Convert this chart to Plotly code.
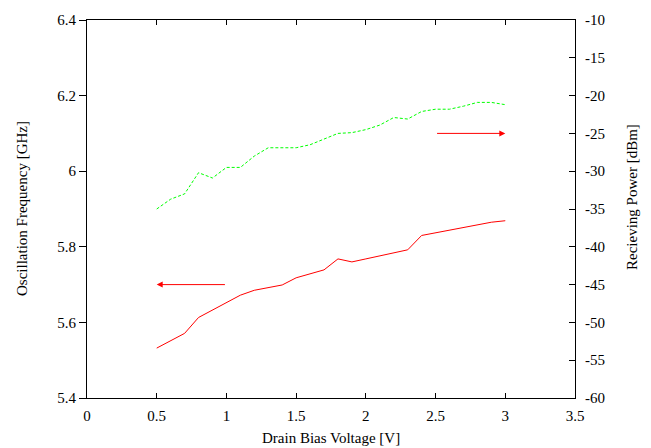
import plotly.graph_objects as go

# Drain bias voltage sweep [V]
voltage = [0.5, 0.6, 0.7, 0.8, 0.9, 1.0, 1.1, 1.2, 1.3, 1.4, 1.5, 1.6, 1.7,
           1.8, 1.9, 2.0, 2.1, 2.2, 2.3, 2.4, 2.5, 2.6, 2.7, 2.8, 2.9, 3.0]

# Oscillation frequency [GHz] (left axis)
frequency = [5.532, 5.551, 5.571, 5.613, 5.633, 5.653, 5.672, 5.685, 5.692,
             5.699, 5.718, 5.729, 5.739, 5.768, 5.760, 5.768, 5.776, 5.784,
             5.792, 5.830, 5.837, 5.844, 5.850, 5.857, 5.865, 5.869]

# Receiving power [dBm] (right axis)
power = [-35.0, -33.7, -33.0, -30.2, -30.9, -29.5, -29.5, -28.0, -26.9,
         -26.9, -26.9, -26.5, -25.7, -25.0, -24.9, -24.5, -23.9, -22.9,
         -23.1, -22.1, -21.8, -21.8, -21.4, -20.9, -20.9, -21.2]

x_ticks = [0, 0.5, 1, 1.5, 2, 2.5, 3, 3.5]
x_tick_text = ["0", "0.5", "1", "1.5", "2", "2.5", "3", "3.5"]
y_ticks = [5.4, 5.6, 5.8, 6.0, 6.2, 6.4]
y_tick_text = ["5.4", "5.6", "5.8", "6", "6.2", "6.4"]
y2_ticks = [-60, -55, -50, -45, -40, -35, -30, -25, -20, -15, -10]
y2_tick_text = ["-60", "-55", "-50", "-45", "-40", "-35", "-30", "-25",
                "-20", "-15", "-10"]

FONT = "Liberation Serif"
FSIZE = 15
RED = "#ff0000"
GREEN = "#00ff00"

fig = go.Figure()
fig.add_trace(go.Scatter(x=voltage, y=frequency, mode="lines",
                         line=dict(color=RED, width=1), yaxis="y",
                         showlegend=False))
fig.add_trace(go.Scatter(x=voltage, y=power, mode="lines",
                         line=dict(color=GREEN, width=1, dash="3px,2px"),
                         yaxis="y2", showlegend=False))

# Arrows pointing each curve to its axis
arrows = [
    dict(x=0.5, y=5.7, ax=1.0, ay=5.7, xref="x", yref="y", axref="x", ayref="y"),
    dict(x=3.0, y=-25, ax=2.5, ay=-25, xref="x", yref="y2", axref="x", ayref="y2"),
]
annotations = []
for a in arrows:
    annotations.append(dict(text="", showarrow=True, arrowhead=2, arrowsize=1.2,
                            arrowwidth=1, arrowcolor=RED, **a))

title_font = dict(family=FONT, size=FSIZE, color="black")
# Axis titles
annotations += [
    dict(text="Drain Bias Voltage [V]", xref="paper", yref="paper", x=0.5, y=0,
         yshift=-50, showarrow=False, xanchor="center", yanchor="bottom",
         font=title_font),
    dict(text="Oscillation Frequency [GHz]", xref="paper", yref="paper", x=0,
         y=0.5, xshift=-65, showarrow=False, textangle=-90,
         xanchor="center", yanchor="middle", font=title_font),
    dict(text="Recieving Power [dBm]", xref="paper", yref="paper", x=1,
         y=0.5, xshift=57, yshift=12, showarrow=False, textangle=-90,
         xanchor="center", yanchor="middle", font=title_font),
]

axis_common = dict(showgrid=False, zeroline=False, showline=True,
                   linecolor="black", linewidth=1, tickcolor="black",
                   tickwidth=1,
                   tickfont=dict(family=FONT, size=FSIZE, color="black"))

fig.update_layout(
    width=651, height=448,
    margin=dict(l=87, r=76, t=16, b=50),
    paper_bgcolor="white", plot_bgcolor="white",
    xaxis=dict(range=[0, 3.5], tickvals=x_ticks, ticktext=x_tick_text,
               ticks="inside", ticklen=5, mirror="ticks",
               ticklabelstandoff=4, **axis_common),
    yaxis=dict(range=[5.4, 6.4], tickvals=y_ticks, ticktext=y_tick_text,
               ticks="outside", ticklen=7, mirror=False, **axis_common),
    yaxis2=dict(range=[-60, -10], tickvals=y2_ticks, ticktext=y2_tick_text,
                ticks="inside", ticklen=6, overlaying="y", side="right",
                ticklabelstandoff=6, **axis_common),
    annotations=annotations,
)

fig.write_html("out.html")
